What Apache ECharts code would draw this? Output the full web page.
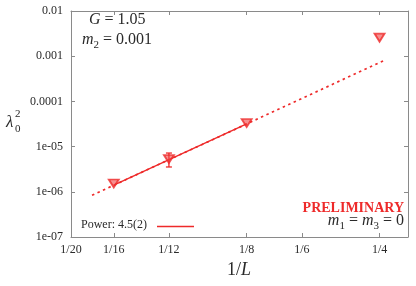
<!DOCTYPE html>
<html><head><meta charset="utf-8">
<script src="https://cdn.jsdelivr.net/npm/echarts@6/dist/echarts.min.js"></script>
<style>html,body{margin:0;padding:0;background:#fff}#c{width:416px;height:286px}</style>
</head><body><div id="c"></div>
<script>
// Data
var invL = [1/16, 1/12, 1/8, 1/4];
var lambda2 = [1.53e-6, 5.3e-6, 3.33e-5, 2.57e-3];
var errLow = [1.42e-6, 3.54e-6, 3.22e-5, 2.50e-3];
var errHigh = [1.64e-6, 7.2e-6, 3.44e-5, 2.64e-3];
// fit line (power 4.5) read at its ends
var fitSolidX = [1/16, 1/8];
var fitSolidY = [1.40e-6, 3.17e-5];
var fitDotX = [0.0558, 1/16, 1/8, 0.255];
var fitDotY = [8.4e-7, 1.40e-6, 3.17e-5, 7.9e-4];
var xTickVals = [1/20, 1/16, 1/12, 1/8, 1/6, 1/4];
var xTickLabels = ['1/20', '1/16', '1/12', '1/8', '1/6', '1/4'];
var yTickExp = [-2, -3, -4, -5, -6, -7];
var yTickLabels = ['0.01', '0.001', '0.0001', '1e-05', '1e-06', '1e-07'];

var RED = '#ee2a2a';
var AX = '#8a8a8a';
var TXT = '#2a2a2a';
var FONT = '"Liberation Serif", "DejaVu Serif", serif';

function zip(a, b) { return a.map(function (v, i) { return [v, b[i]]; }); }
function xFmt(v) {
  var best = 0, d = 1e9;
  xTickVals.forEach(function (t, i) { var dd = Math.abs(Math.log(t) - Math.log(v)); if (dd < d) { d = dd; best = i; } });
  return d < 0.01 ? xTickLabels[best] : '';
}
function yFmt(v) {
  var e = Math.round(Math.log10(v));
  var i = yTickExp.indexOf(e);
  return i >= 0 ? yTickLabels[i] : '';
}

var chart = echarts.init(document.getElementById('c'), null, {renderer: 'canvas'});
var baseX = {
  type: 'log', logBase: 10, min: 0.05, max: 0.29,
  axisLine: {show: true, lineStyle: {color: AX, width: 1}},
  splitLine: {show: false}, minorTick: {show: false},
};
var rich = {
  i: {fontStyle: 'italic', fontSize: 16, fontFamily: FONT, fill: TXT, lineHeight: 22},
  n: {fontSize: 16, fontFamily: FONT, fill: TXT, lineHeight: 22},
  s: {fontSize: 11, fontFamily: FONT, fill: TXT, verticalAlign: 'bottom', lineHeight: 12}
};
var option = {
  animation: false,
  grid: {left: 71, right: 8, top: 11, bottom: 49},
  xAxis: [
    Object.assign({}, baseX, {
      position: 'bottom',
      axisTick: {show: true, inside: true, length: 4, lineStyle: {color: AX}, customValues: xTickVals},
      axisLabel: {show: true, customValues: xTickVals, formatter: xFmt, color: TXT, fontFamily: FONT, fontSize: 12, margin: 7}
    }),
    Object.assign({}, baseX, {
      position: 'top',
      axisTick: {show: true, inside: true, length: 4, lineStyle: {color: AX}, customValues: xTickVals},
      axisLabel: {show: false, customValues: xTickVals}
    })
  ],
  yAxis: [
    {
      type: 'log', logBase: 10, min: 1e-7, max: 0.01, position: 'left',
      axisLine: {show: true, lineStyle: {color: AX}},
      axisTick: {show: true, inside: true, length: 4, lineStyle: {color: AX}},
      axisLabel: {formatter: yFmt, color: TXT, fontFamily: FONT, fontSize: 12, margin: 8},
      splitLine: {show: false}, minorTick: {show: false}
    },
    {
      type: 'log', logBase: 10, min: 1e-7, max: 0.01, position: 'right',
      axisLine: {show: true, lineStyle: {color: AX}},
      axisTick: {show: true, inside: true, length: 4, lineStyle: {color: AX}},
      axisLabel: {show: false},
      splitLine: {show: false}, minorTick: {show: false}
    }
  ],
  series: [
    {
      type: 'line', data: zip(fitDotX, fitDotY), showSymbol: false, symbol: 'none',
      lineStyle: {color: RED, width: 1.7, type: [2.5, 3.5]}, z: 2
    },
    {
      type: 'line', data: zip(fitSolidX, fitSolidY), showSymbol: false, symbol: 'none',
      lineStyle: {color: RED, width: 1.4, type: 'solid'}, z: 3
    },
    {
      type: 'custom', z: 4,
      data: invL.map(function (x, i) { return [x, errLow[i], errHigh[i]]; }),
      renderItem: function (params, api) {
        var lo = api.coord([api.value(0), api.value(1)]);
        var hi = api.coord([api.value(0), api.value(2)]);
        if (Math.abs(lo[1] - hi[1]) < 8) return null;
        var w = 3;
        var st = {stroke: RED, lineWidth: 1.3};
        return {type: 'group', children: [
          {type: 'line', shape: {x1: lo[0], y1: lo[1], x2: hi[0], y2: hi[1]}, style: st},
          {type: 'line', shape: {x1: lo[0] - w, y1: lo[1], x2: lo[0] + w, y2: lo[1]}, style: st},
          {type: 'line', shape: {x1: hi[0] - w, y1: hi[1], x2: hi[0] + w, y2: hi[1]}, style: st}
        ]};
      }
    },
    {
      type: 'scatter', data: zip(invL, lambda2), z: 5,
      symbol: 'path://M0,0L10,0L5,8.5Z', symbolSize: [10, 8],
      itemStyle: {color: 'rgba(240,70,70,0.75)', borderColor: RED, borderWidth: 1.8}
    }
  ],
  graphic: [
    {type: 'text', left: 89, top: 12, style: {text: '{i|G}{n| = 1.05}', rich: rich}},
    {type: 'text', left: 82, top: 32, style: {text: '{i|m}{s|2}{n| = 0.001}', rich: rich}},
    {type: 'text', right: 12, top: 201, style: {
      text: 'PRELIMINARY', font: 'bold 14px ' + FONT, fill: RED}},
    {type: 'text', right: 12, top: 213, style: {text: '{i|m}{s|1}{n| = }{i|m}{s|3}{n| = 0}', rich: rich}},
    {type: 'text', left: 81, top: 219, style: {
      text: 'Power: 4.5(2)', font: '12px ' + FONT, fill: TXT}},
    {type: 'line', shape: {x1: 157, y1: 226.5, x2: 194, y2: 226.5}, style: {stroke: RED, lineWidth: 1.4}},
    {type: 'text', left: 6, top: 114, style: {text: 'λ', font: 'italic 17px ' + FONT, fill: TXT}},
    {type: 'text', left: 15, top: 109, style: {text: '2', font: '11px ' + FONT, fill: TXT}},
    {type: 'text', left: 15, top: 124, style: {text: '0', font: '11px ' + FONT, fill: TXT}},
    {type: 'text', left: 227, top: 261, style: {
      text: '1/{i|L}', font: '18px ' + FONT, fill: TXT,
      rich: {i: {fontStyle: 'italic', fontSize: 18, fontFamily: FONT, fill: TXT}}}}
  ]
};
chart.setOption(option);
</script></body></html>
